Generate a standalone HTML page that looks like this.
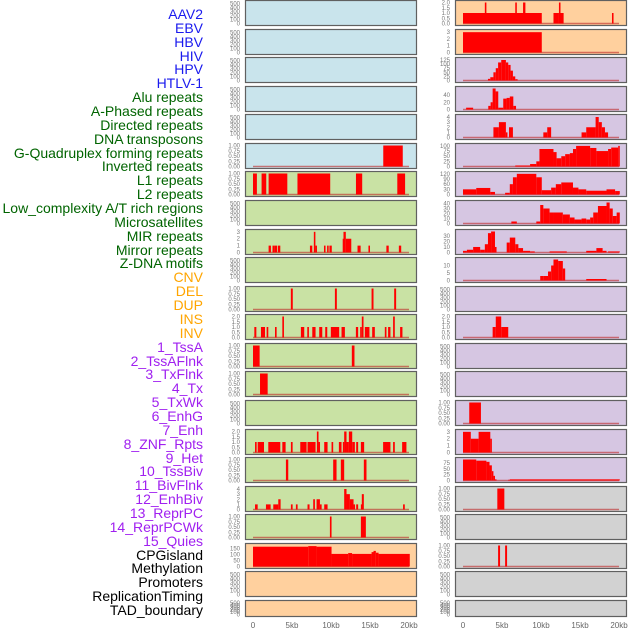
<!DOCTYPE html>
<html><head><meta charset="utf-8">
<style>
body{margin:0;background:#fff;width:630px;height:630px;overflow:hidden;font-family:"Liberation Sans",sans-serif}
#labels div{position:absolute;right:427px;font-size:14px;line-height:15px;white-space:nowrap}
</style></head><body>
<div id="labels"></div>
<svg id="chart" width="630" height="630" style="position:absolute;left:0;top:0"></svg>
<script>
// ---- labels ----
const trackLabels=["AAV2","EBV","HBV","HIV","HPV","HTLV-1","Alu repeats","A-Phased repeats","Directed repeats","DNA transposons","G-Quadruplex forming repeats","Inverted repeats","L1 repeats","L2 repeats","Low_complexity A/T rich regions","Microsatellites","MIR repeats","Mirror repeats","Z-DNA motifs","CNV","DEL","DUP","INS","INV","1_TssA","2_TssAFlnk","3_TxFlnk","4_Tx","5_TxWk","6_EnhG","7_Enh","8_ZNF_Rpts","9_Het","10_TssBiv","11_BivFlnk","12_EnhBiv","13_ReprPC","14_ReprPCWk","15_Quies","CPGisland","Methylation","Promoters","ReplicationTiming","TAD_boundary"];
const labelGroups=[6,13,5,15,5];
// ---- x axis ----
const xTickValues=[0,5,10,15,20];
const xTickLabels=["0","5kb","10kb","15kb","20kb"];
// ---- data segments [startKb,endKb,value] ----
const segL6=[[16.7,19.2,1]];
const segL7=[[0,0.5,1],[1.1,1.7,1],[2.0,4.4,1],[5.7,9.9,1],[13.2,14.0,1],[18.5,19.5,1]];
const segL9=[[2.0,2.3,1],[2.5,2.8,1],[2.8,3.1,1],[3.2,3.5,1],[7.3,7.6,1],[7.8,8.0,3],[8.0,8.2,1],[9.1,9.3,1],[9.5,9.7,1],[9.8,10.1,1],[11.5,11.6,2],[11.6,11.9,3],[11.9,12.6,2],[13.4,13.8,1],[14.8,15.0,1],[17.1,17.4,1],[18.7,19.0,1]];
const segL11=[[4.85,5.1,1],[10.5,10.75,1],[15.2,15.45,1],[18.1,18.35,1]];
const segL12=[[0.17,0.43,1],[1.02,1.54,1],[1.75,1.96,1],[2.82,3.03,1],[3.76,3.97,2],[6.14,6.57,1],[6.96,7.17,1],[7.6,8.02,1],[8.49,8.88,1],[9.26,9.52,1],[9.98,11.05,1],[11.35,11.78,1],[13.19,13.48,1],[13.74,13.95,1],[13.95,14.17,2],[14.34,14.93,1],[15.28,15.62,1],[16.9,17.11,1],[17.32,17.62,1],[17.96,18.18,2],[18.86,19.16,1]];
const segL13=[[0,0.85,1],[12.67,13.01,1]];
const segL14=[[0.9,1.88,1]];
const segL16=[[0.26,0.47,1],[0.6,1.41,1],[1.96,3.5,1],[3.76,4.18,1],[4.86,5.08,1],[6.06,6.87,1],[6.99,8.02,1],[8.19,8.4,2],[8.4,8.53,1],[9.13,9.56,1],[10.07,10.28,1],[11.01,11.35,1],[11.52,11.69,1],[11.69,11.99,2],[11.99,12.29,1],[12.29,12.72,2],[12.72,13.06,1],[13.23,13.48,1],[13.83,14.25,1],[16.68,17.62,1],[17.96,18.18,1],[19.12,19.67,1]];
const segL17=[[4.22,4.52,1],[10.28,10.71,1],[11.26,11.69,1],[14.21,14.55,1]];
const segL18=[[0.26,0.6,1],[1.66,2.26,1],[2.6,3.24,1],[3.24,3.54,2],[4.86,5.08,1],[5.5,5.72,1],[6.99,7.25,1],[7.72,7.94,2],[8.15,8.58,2],[8.58,8.8,1],[9.13,9.56,1],[11.69,11.99,4],[11.99,12.42,3],[12.42,12.89,2],[12.89,13.06,1],[13.23,13.48,1],[13.83,13.95,1],[13.95,14.21,3],[19.24,19.46,1]];
const segL19=[[9.86,10.07,1],[13.83,14.47,1]];
const segL20=[[0,7.08,165],[7.08,8.15,170],[8.15,10.07,165],[10.07,12.2,105],[12.2,12.7,112],[12.7,15.2,105],[15.2,15.45,120],[15.45,15.75,130],[15.75,16.1,115],[16.1,20.1,105]];
const segR1=[[0,10.1,1],[2.8,3.0,2],[6.7,6.9,2],[7.7,8.0,2],[11.6,12.3,1],[12.3,12.5,2],[12.5,12.9,1],[19.1,19.3,1]];
const segR2=[[0,10.1,3]];
const segR3=[[3.2,3.5,10],[3.5,3.9,20],[3.9,4.2,50],[4.2,4.5,75],[4.5,4.9,110],[4.9,5.5,125],[5.5,5.8,110],[5.8,6.1,95],[6.1,6.4,60],[6.4,6.7,25],[6.7,7.0,8]];
const segR4=[[0.4,1.3,5],[3.24,3.54,10],[3.54,3.8,20],[3.8,4.18,58],[4.18,4.52,50],[4.52,5.16,5],[5.16,5.59,30],[5.59,6.0,32],[6.0,6.45,36],[6.45,6.8,10]];
const segR5=[[3.9,4.6,2],[4.6,5.5,3],[5.5,5.7,1],[5.9,6.4,2],[10.3,10.8,1],[10.8,11.3,2],[15.2,15.8,1],[15.8,17.0,2],[17.0,17.4,4],[17.4,17.8,3],[17.8,18.2,2],[18.2,18.6,1]];
const segR6=[[6.7,8.6,5],[8.6,9.4,12],[9.4,9.8,25],[9.8,11.6,85],[11.6,12.0,70],[12.0,12.6,40],[12.6,13.1,50],[13.1,13.7,60],[13.7,14.1,65],[14.1,14.5,85],[14.5,16.3,100],[16.3,17.1,90],[17.1,18.6,75],[18.6,19.0,85],[19.0,19.9,92],[19.9,20.1,100]];
const segR7=[[0,1.7,30],[1.7,3.5,38],[3.5,4.1,15],[5.4,6.0,10],[6.0,6.4,60],[6.4,6.9,100],[6.9,9.4,120],[9.4,10.1,100],[10.1,11.3,25],[11.3,11.9,40],[11.9,12.6,60],[12.6,14.1,70],[14.1,14.8,40],[14.8,15.8,30],[15.8,18.4,22],[18.4,19.5,30],[19.5,20.1,20]];
const segR8=[[6.2,6.9,4],[9.4,9.9,4],[9.9,10.3,37],[10.3,11.1,30],[11.1,11.6,22],[11.6,12.8,22],[12.8,13.7,18],[13.7,14.3,12],[14.3,15.2,8],[15.2,15.8,10],[15.8,16.3,8],[16.3,16.7,12],[16.7,17.3,22],[17.3,18.4,35],[18.4,18.8,42],[18.8,19.2,30],[19.2,19.7,15],[19.7,20.1,22]];
const segR9=[[0,0.5,3],[0.5,1.3,5],[1.3,2.2,10],[2.2,2.8,5],[2.8,3.2,15],[3.2,3.6,35],[3.6,4.1,38],[4.1,4.3,10],[5.6,6.0,18],[6.0,6.7,27],[6.7,7.1,15],[7.1,7.7,8],[7.7,8.6,3],[8.6,9.2,2],[11.1,13.3,2],[15.8,17.1,3],[17.1,17.9,8],[17.9,18.4,3],[18.6,20.1,2]];
const segR10=[[9.9,10.3,3],[10.3,10.9,3],[10.9,11.3,6],[11.3,11.6,10],[11.6,12.2,14],[12.2,12.8,13],[12.8,13.1,8],[15.8,18.4,1]];
const segR12=[[3.8,4.2,1],[4.2,4.9,2],[4.9,5.8,1]];
const segR15=[[0.8,2.3,1]];
const segR16=[[0,1.0,3],[1.0,2.0,2],[2.0,3.5,3],[3.5,3.7,2]];
const segR17=[[0,1.7,90],[1.7,3.0,85],[3.0,3.4,80],[3.4,3.7,65],[3.7,3.9,40],[3.9,4.1,20],[4.1,4.3,5],[5.8,6.0,3],[6.0,20.1,5]];
const segR18=[[4.4,5.3,1]];
const segR20=[[4.5,4.75,1],[5.4,5.65,1]];
const emptySeg=[];
// ---- tick label arrays ----
const ticks500=[0,100,200,300,400,500];
const ticks1=[0,0.25,0.5,0.75,1];
const ticks2=[0,0.5,1,1.5,2];
const ticks3=[0,1,2,3];
const ticks4=[0,1,2,3,4];
const ticksCpg=[0,50,100,150];
const ticksHiv=[0,25,50,75,100,125];
const ticksHpv=[0,20,40];
const ticksG=[0,25,50,75,100];
const ticksInv=[0,30,60,90,120];
const ticksL1=[0,10,20,30,40];
const ticksL2=[0,10,20,30];
const ticksLow=[0,5,10];
const ticks75=[0,25,50,75];

const B='#c9e4ec',G='#c9e2a4',O='#ffd09e',P='#d6c6e2',Y='#d2d2d2';
// [bg, ticks, ymax, decimals, data]
const rows=[
 [[B,ticks500,530,0,emptySeg],[O,ticks2,2,1,segR1]],
 [[B,ticks500,530,0,emptySeg],[O,ticks3,3.1,0,segR2]],
 [[B,ticks500,530,0,emptySeg],[P,ticksHiv,128,0,segR3]],
 [[B,ticks500,530,0,emptySeg],[P,ticksHpv,58,0,segR4]],
 [[B,ticks500,530,0,emptySeg],[P,ticks4,4.1,0,segR5]],
 [[B,ticks1,1,2,segL6],[P,ticksG,102,0,segR6]],
 [[G,ticks1,1,2,segL7],[P,ticksInv,122,0,segR7]],
 [[G,ticks500,530,0,emptySeg],[P,ticksL1,42,0,segR8]],
 [[G,ticks3,3.05,0,segL9],[P,ticksL2,38,0,segR9]],
 [[G,ticks500,530,0,emptySeg],[P,ticksLow,14,0,segR10]],
 [[G,ticks1,1,2,segL11],[P,ticks500,530,0,emptySeg]],
 [[G,ticks2,2,1,segL12],[P,ticks2,2,1,segR12]],
 [[G,ticks1,1,2,segL13],[P,ticks500,530,0,emptySeg]],
 [[G,ticks1,1,2,segL14],[P,ticks500,530,0,emptySeg]],
 [[G,ticks500,530,0,emptySeg],[P,ticks1,1,2,segR15]],
 [[G,ticks2,2,1,segL16],[P,ticks3,3.05,0,segR16]],
 [[G,ticks1,1,2,segL17],[P,ticks75,90,0,segR17]],
 [[G,ticks4,4.1,0,segL18],[Y,ticks1,1,2,segR18]],
 [[G,ticks1,1,2,segL19],[Y,ticks500,530,0,emptySeg]],
 [[O,ticksCpg,175,0,segL20],[Y,ticks1,1,2,segR20]],
 [[O,ticks500,530,0,emptySeg],[Y,ticks500,530,0,emptySeg]],
 [[O,ticks500,530,0,emptySeg],[Y,ticks500,530,0,emptySeg]]
];
const NS='http://www.w3.org/2000/svg';
const svg=document.getElementById('chart');
function mk(tag,attrs,parent){const e=document.createElementNS(NS,tag);for(const k in attrs)e.setAttribute(k,attrs[k]);(parent||svg).appendChild(e);return e;}
const colX=[245,455],colW=171,zeroX=[253,463],kbPx=7.8;
function xScale(col,kb){return zeroX[col]+kb*kbPx;}
rows.forEach((row,i)=>{
  const top=Math.round(i*28.57)+0.5;
  const h=(i===rows.length-1)?16:25;
  row.forEach((p,col)=>{
    const [bg,ticks,ymax,dec,data]=p;
    const g=mk('g',{});
    
    
    mk('rect',{x:colX[col]+0.5,y:top,width:colW,height:h,fill:bg,stroke:'#606060','stroke-width':1.2},g);
    const y0=top+h-2,y1=top+2;
    const yS=v=>y0-(v/ymax)*(y0-y1);
    ticks.forEach(t=>{
      const tx=mk('text',{x:colX[col]-5,y:yS(t)+2,'font-size':6,fill:'#777','text-anchor':'end'},g);
      
      
      tx.textContent=t.toFixed(dec);
    });
    if(data.length){
      const bl=mk('line',{x1:xScale(col,0),x2:xScale(col,20),y1:y0,y2:y0,stroke:'rgba(190,40,40,0.6)','stroke-width':1.5},g);
      
      
    }
    data.forEach(s=>{
      const xa=Math.max(xScale(col,s[0]),colX[col]+1),xb=xScale(col,s[1]);
      const r=mk('rect',{x:xa,y:yS(s[2]),width:Math.max(xb-xa,1.5),height:y0-yS(s[2]),fill:'#ff0000'},g);
      
      
    });
  });
});
[0,1].forEach(col=>{
  xTickValues.forEach((v,k)=>{
    const t=mk('text',{x:xScale(col,v),y:628,'font-size':8,fill:'#666','text-anchor':'middle'});
    
    
    t.textContent=xTickLabels[k];
  });
});
const colors=['#1a1aee','#006400','#ffa500','#a020f0','#000'];
const lab=document.getElementById('labels');
let idx=0;
labelGroups.forEach((n,gi)=>{for(let j=0;j<n;j++){
  const d=document.createElement('div');
  
  
  d.style.top=(15+idx*(596/(trackLabels.length-1))-8)+'px';
  d.style.color=colors[gi];
  d.textContent=trackLabels[idx];lab.appendChild(d);idx++;}});
</script>
</body></html>
